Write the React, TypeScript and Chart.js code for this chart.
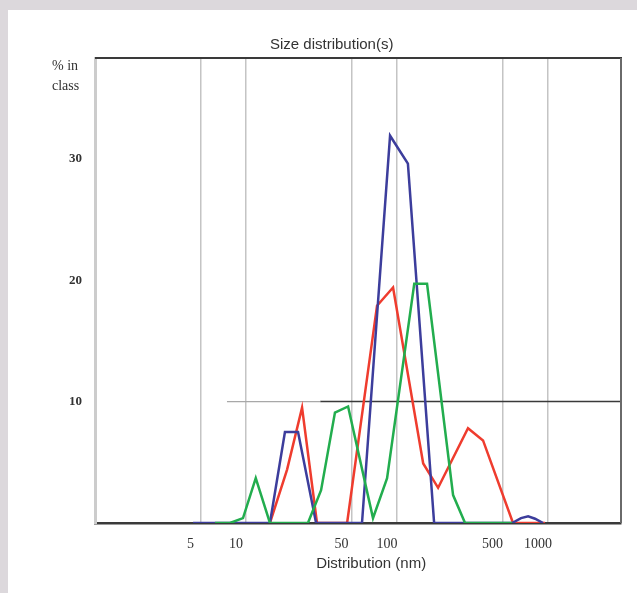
import React, { useEffect, useRef } from 'react';
import { Chart, registerables } from 'chart.js';

Chart.register(...registerables);

const chartTitle = 'Size distribution(s)';
const xAxisTitle = 'Distribution (nm)';
const yAxisTitleLines = ['% in', 'class'];

const xTickValues = [5, 10, 50, 100, 500, 1000];
const yTickValues = [10, 20, 30];

const blueSizes = [4.46, 14.4, 18.1, 22.1, 29.1, 58.6, 89.9, 118, 176, 578, 662, 738, 820, 927];
const blueValues = [0, 0, 7.5, 7.5, 0, 0, 31.9, 29.6, 0, 0, 0.4, 0.55, 0.35, 0];

const redSizes = [14.4, 18.7, 23.5, 29.5, 46.7, 73.7, 94.1, 149, 187, 295, 371, 586, 955];
const redValues = [0, 4.4, 9.5, 0, 0, 17.9, 19.4, 4.9, 2.9, 7.8, 6.8, 0, 0];

const greenSizes = [6.23, 7.83, 9.55, 11.6, 14.4, 25.7, 31.4, 38.8, 47.4, 69.3, 85.9, 130, 158, 235, 282, 578];
const greenValues = [0, 0, 0.4, 3.7, 0, 0, 2.7, 9.1, 9.6, 0.4, 3.7, 19.7, 19.7, 2.3, 0, 0];

const refLightSizes = [7.48, 31];
const refDarkSizes = [31, 3040];
const refValue = 10;

const toPoints = (xs: number[], ys: number[]) => xs.map((x, i) => ({ x, y: ys[i] }));

export default function App() {
  const canvasRef = useRef<HTMLCanvasElement | null>(null);

  useEffect(() => {
    if (!canvasRef.current) return;

    const framePlugin = {
      id: 'frameAndText',
      afterDraw(chart: any) {
        const { ctx, chartArea } = chart;
        const { left, right, top, bottom } = chartArea;
        ctx.save();
        // top border
        ctx.strokeStyle = '#3a3a3a';
        ctx.lineWidth = 2;
        ctx.beginPath();
        ctx.moveTo(left, top);
        ctx.lineTo(right + 1, top);
        ctx.stroke();
        // right border
        ctx.strokeStyle = '#6a6a6a';
        ctx.lineWidth = 2;
        ctx.beginPath();
        ctx.moveTo(right, top);
        ctx.lineTo(right, bottom);
        ctx.stroke();

        ctx.fillStyle = '#333333';
        ctx.textAlign = 'center';
        ctx.textBaseline = 'middle';
        ctx.font = '15px "Liberation Sans", Arial, sans-serif';
        ctx.fillText(chartTitle, left + (right - left) * 0.45, top - 13);
        ctx.fillText(xAxisTitle, left + (right - left) * 0.525, bottom + 41);

        ctx.textAlign = 'left';
        ctx.font = '14px "Liberation Serif", "Times New Roman", serif';
        yAxisTitleLines.forEach((line, i) => {
          ctx.fillText(line, left - 43, top + 8 + i * 20);
        });
        ctx.restore();
      },
    };

    const chart = new Chart(canvasRef.current, {
      type: 'line',
      data: {
        datasets: [
          {
            label: 'green',
            data: toPoints(greenSizes, greenValues),
            borderColor: '#22ad4e',
            borderWidth: 2.5,
            pointRadius: 0,
            tension: 0,
            order: 1,
          },
          {
            label: 'blue',
            data: toPoints(blueSizes, blueValues),
            borderColor: '#3c3d9c',
            borderWidth: 2.5,
            pointRadius: 0,
            tension: 0,
            order: 2,
          },
          {
            label: 'red',
            data: toPoints(redSizes, redValues),
            borderColor: '#ef3c2e',
            borderWidth: 2.5,
            pointRadius: 0,
            tension: 0,
            order: 3,
          },
          {
            label: 'ref-light',
            data: refLightSizes.map((x) => ({ x, y: refValue })),
            borderColor: '#a8a8a8',
            borderWidth: 1.2,
            pointRadius: 0,
            order: 10,
          },
          {
            label: 'ref-dark',
            data: refDarkSizes.map((x) => ({ x, y: refValue })),
            borderColor: '#3a3a3a',
            borderWidth: 1.5,
            pointRadius: 0,
            order: 10,
          },
        ],
      },
      options: {
        animation: false,
        responsive: false,
        devicePixelRatio: 1,
        layout: { padding: { left: 0, top: 58, right: 16, bottom: 0 } },
        plugins: {
          legend: { display: false },
          tooltip: { enabled: false },
          title: { display: false },
        },
        scales: {
          x: {
            type: 'logarithmic',
            min: 1,
            max: 3040,
            afterFit: (s: any) => {
              s.height = 70;
            },
            afterBuildTicks: (s: any) => {
              s.ticks = xTickValues.map((v) => ({ value: v }));
            },
            grid: {
              display: true,
              color: '#c4c4c4',
              lineWidth: 1.5,
              drawTicks: false,
            },
            border: { display: true, color: '#3a3a3a', width: 2.5 },
            ticks: {
              autoSkip: false,
              maxRotation: 0,
              padding: 13,
              labelOffset: -10,
              color: '#333333',
              font: { family: '"Liberation Serif", "Times New Roman", serif', size: 14 },
              callback: (v: any) => String(v),
            },
          },
          y: {
            type: 'linear',
            min: 0,
            max: 38.3,
            afterFit: (s: any) => {
              s.width = 95;
            },
            afterBuildTicks: (s: any) => {
              s.ticks = yTickValues.map((v) => ({ value: v }));
            },
            grid: { display: false, drawTicks: false },
            border: { display: true, color: '#cccccc', width: 3 },
            ticks: {
              padding: 13,
              color: '#333333',
              font: { family: '"Liberation Serif", "Times New Roman", serif', size: 13, weight: 'bold' },
              callback: (v: any) => String(v),
            },
          },
        },
      },
      plugins: [framePlugin],
    } as any);

    return () => {
      chart.destroy();
    };
  }, []);

  return (
    <div
      style={{
        position: 'absolute',
        left: 0,
        top: 0,
        width: 637,
        height: 593,
        background: '#dcd8dc',
        overflow: 'hidden',
      }}
    >
      <div
        style={{
          position: 'absolute',
          left: 8,
          top: 10,
          width: 629,
          height: 583,
          background: '#ffffff',
        }}
      />
      <canvas
        ref={canvasRef}
        width={637}
        height={593}
        style={{ position: 'absolute', left: 0, top: 0, display: 'block' }}
      />
    </div>
  );
}
